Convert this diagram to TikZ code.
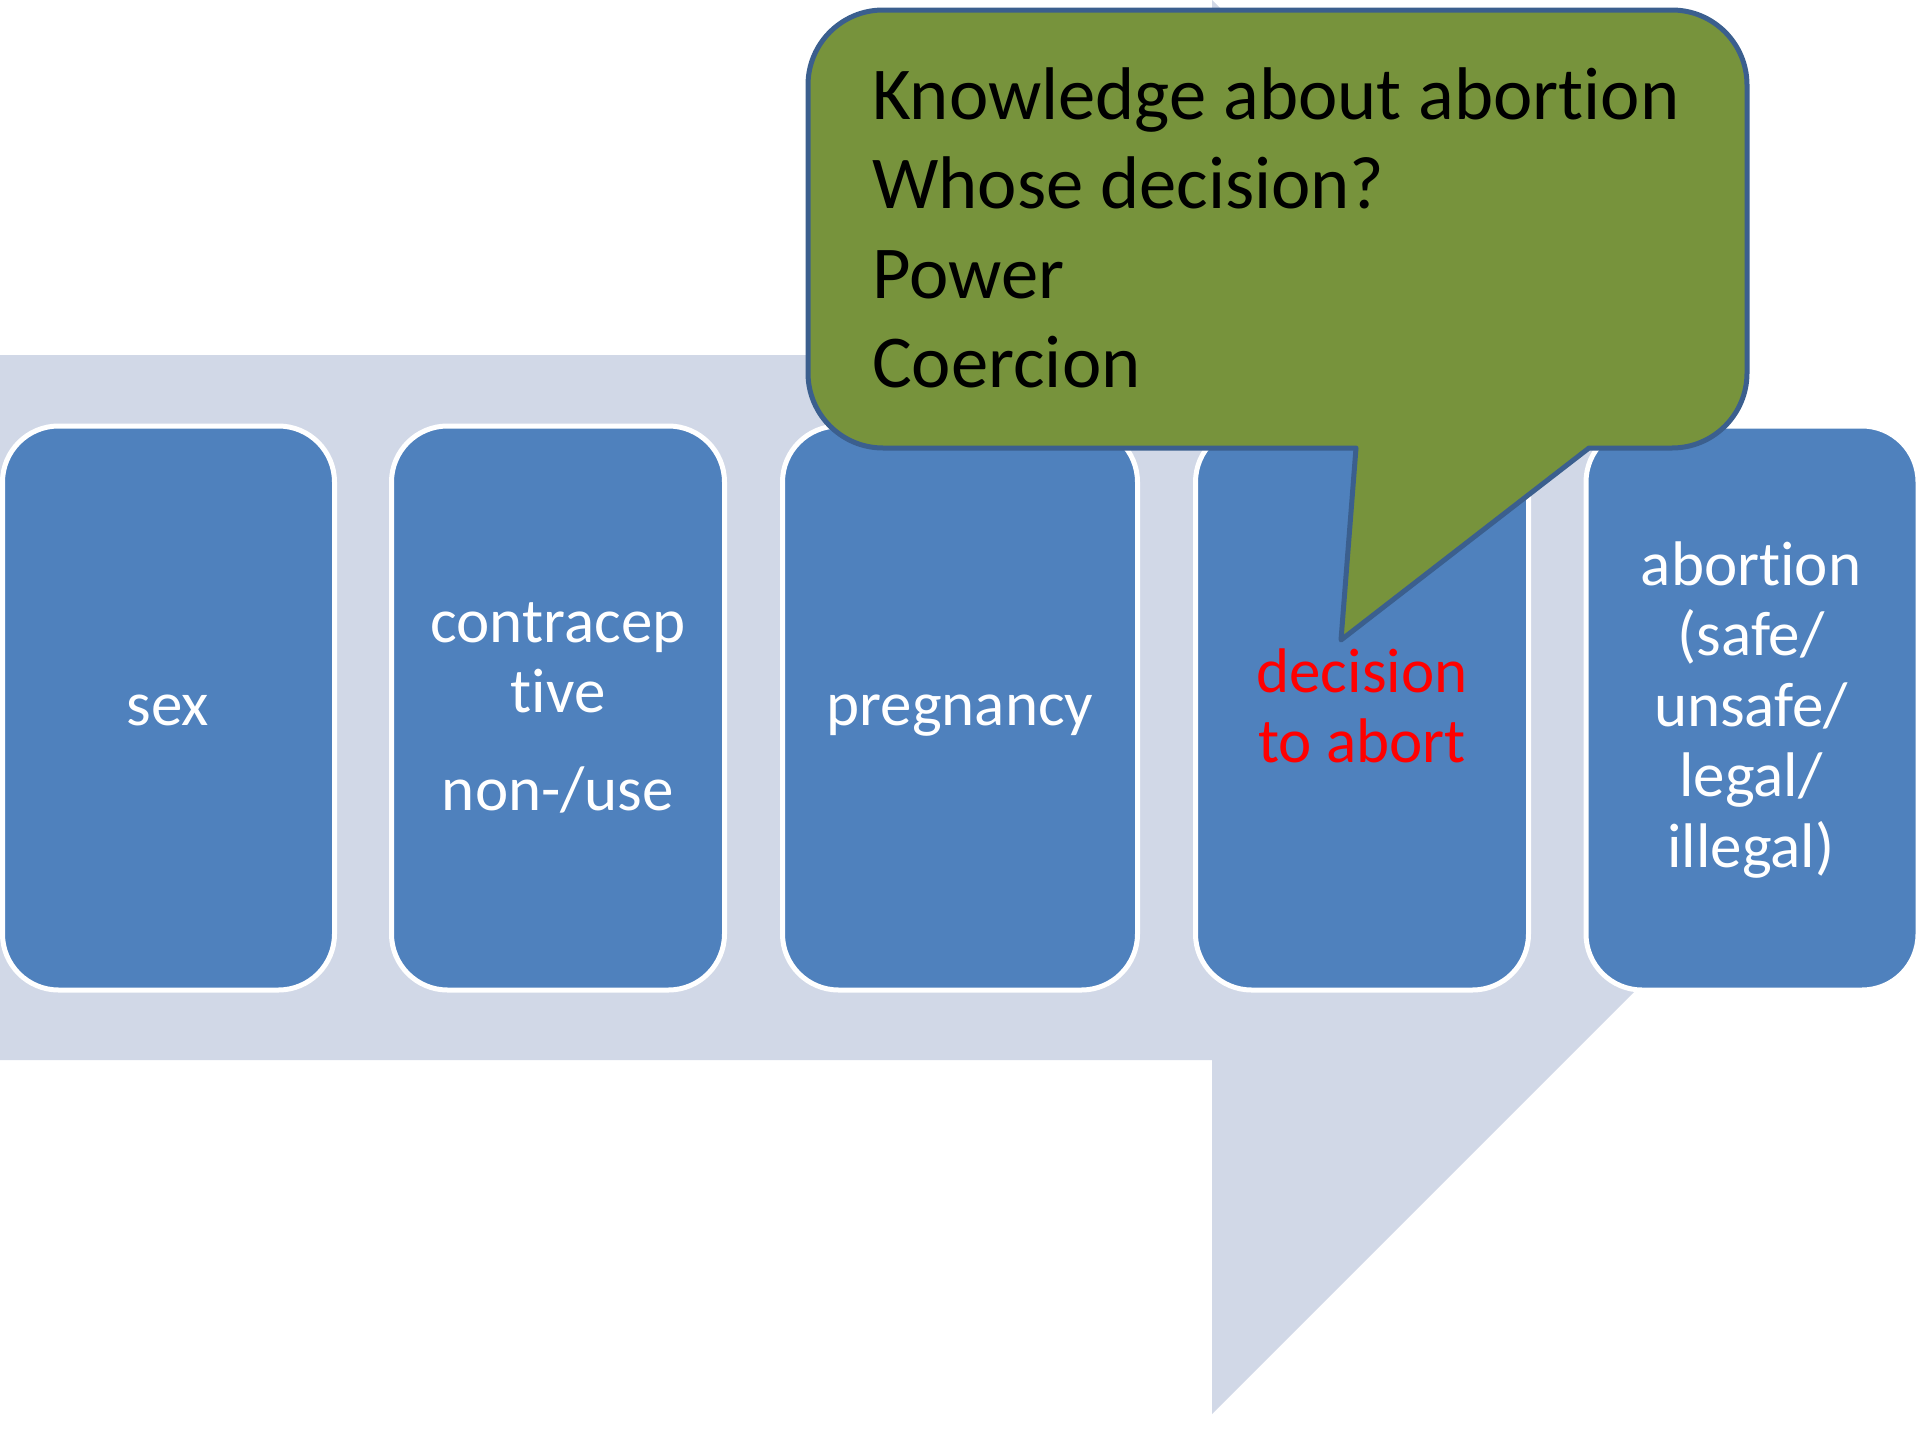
\documentclass[tikz,border=0pt]{standalone}
\usepackage{fontspec}
\setmainfont{Carlito}[Ligatures=NoCommon]
\definecolor{arrowgrey}{HTML}{D1D8E7}
\definecolor{stepblue}{HTML}{4F81BD}
\definecolor{calloutgreen}{HTML}{77933C}
\definecolor{calloutedge}{HTML}{3B5F8E}
\definecolor{alertred}{HTML}{FF0000}
\begin{document}
\begin{tikzpicture}[x=1pt,y=-1pt,
  stage/.style={draw=white, line width=5pt, fill=stepblue, rounded corners=56pt,
    minimum height=564pt, inner sep=0pt},
  boxtxt/.style={text=white, font=\fontsize{63}{70}\selectfont, anchor=base, inner sep=0pt},
  calltxt/.style={text=black, font=\fontsize{74.6}{89}\selectfont, anchor=base west, inner sep=0pt},
  callout/.style={fill=calloutgreen, draw=calloutedge, line width=5pt, line join=round}]
\useasboundingbox (0,0) rectangle (1920,1440);

% background process arrow
\fill[arrowgrey] (0,355) -- (1212,355) -- (1212,0) -- (1919,707) -- (1212,1414)
  -- (1212,1060) -- (0,1060) -- cycle;

% process stages
\node[stage, minimum width=332pt] (sex)   at (168.5,708) {};
\node[stage, minimum width=333pt] (contra) at (558,708) {};
\node[stage, minimum width=355pt] (preg)  at (960,708) {};
\node[stage, minimum width=333pt] (decide) at (1362,708) {};
\node[stage, minimum width=332pt] (abort) at (1752,708) {};

% stage labels
\node[boxtxt] (sexA) at (168,725) {sex};
\node[boxtxt] (contraA) at (558,642) {contracep};
\node[boxtxt] (contraB) at (558,712) {tive};
\node[boxtxt] (contraC) at (558,810) {non-/use};
\node[boxtxt] (pregA) at (960,725) {pregnancy};
\node[boxtxt, text=alertred] (decideA) at (1362,692) {decision};
\node[boxtxt, text=alertred] (decideB) at (1362,762) {to abort};
\node[boxtxt] (abortA) at (1751,585) {abortion};
\node[boxtxt] (abortB) at (1751,655) {(safe/};
\node[boxtxt] (abortC) at (1751,726) {unsafe/};
\node[boxtxt] (abortD) at (1751,796) {legal/};
\node[boxtxt] (abortE) at (1751,867) {illegal)};

% speech bubble pointing at the decision stage
\draw[callout] (883,10) -- (1672,10) arc[start angle=270, end angle=360, radius=75]
  -- (1747,373) arc[start angle=0, end angle=90, radius=75]
  -- (1589,448) -- (1341,640) -- (1356,448) -- (883,448)
  arc[start angle=90, end angle=180, radius=75]
  -- (808,85) arc[start angle=180, end angle=270, radius=75] -- cycle;

\node[calltxt] (qA) at (872,119) {Knowledge about abortion};
\node[calltxt] (qB) at (872,208) {Whose decision?};
\node[calltxt] (qC) at (872,298) {Power};
\node[calltxt] (qD) at (872,387) {Coercion};
\end{tikzpicture}
\end{document}
